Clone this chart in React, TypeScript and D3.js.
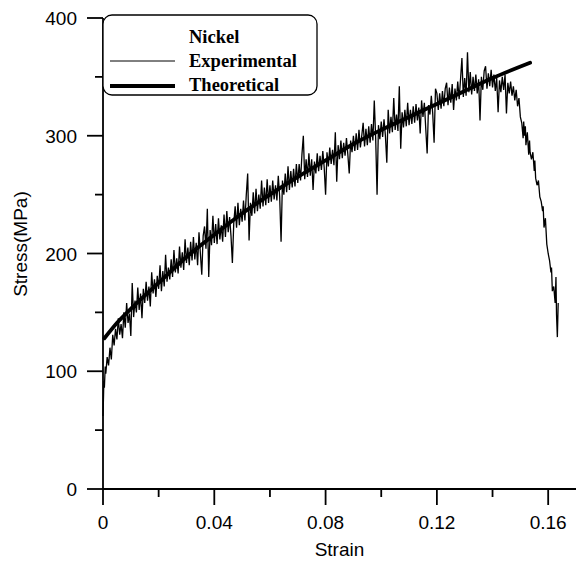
import React from "react";
import * as d3 from "d3";

// axis ticks
const xMajor = [0, 0.04, 0.08, 0.12, 0.16];
const xMinor = [0.02, 0.06, 0.1, 0.14];
const yMajor = [0, 100, 200, 300, 400];
const yMinor = [50, 150, 250, 350];

const legendTitle = "Nickel";
const legendLabels = ["Experimental", "Theoretical"];

// theoretical curve (strain, stress MPa)
const theoretical: [number, number][] = [
  [0.0005, 128], [0.005, 141], [0.01, 153], [0.02, 175], [0.03, 197],
  [0.04, 216], [0.05, 234], [0.06, 250], [0.07, 265], [0.08, 279],
  [0.09, 293], [0.1, 305], [0.11, 316], [0.12, 327], [0.13, 338],
  [0.14, 349], [0.1535, 362],
];

// experimental record
const experimental: [number, number][] = [
  [0, 62], [0.0002, 80], [0.0003, 92], [0.0005, 86], [0.0008, 104], [0.001, 98],
  [0.0015, 112], [0.002, 105], [0.0025, 120], [0.003, 110],
  [0.0035, 131], [0.004, 122], [0.0045, 136], [0.005, 127], [0.0055, 145],
  [0.006, 131], [0.0065, 140], [0.007, 128], [0.0075, 150], [0.008, 137],
  [0.0085, 158], [0.009, 141], [0.0095, 149], [0.01, 130], [0.0105, 175],
  [0.011, 146], [0.0115, 160], [0.012, 150], [0.0125, 171], [0.013, 152],
  [0.0135, 166], [0.014, 145], [0.0145, 170], [0.015, 158], [0.0155, 176],
  [0.016, 160], [0.0165, 172], [0.017, 155], [0.0175, 184], [0.018, 166],
  [0.0185, 178], [0.019, 163], [0.0195, 181], [0.02, 170], [0.0205, 190],
  [0.021, 168], [0.0215, 185], [0.022, 172], [0.0225, 199], [0.023, 176],
  [0.0235, 188], [0.024, 178], [0.0245, 195], [0.025, 180], [0.0255, 203],
  [0.026, 184], [0.0265, 196], [0.027, 183], [0.0275, 206], [0.028, 188],
  [0.0285, 201], [0.029, 186], [0.0295, 212], [0.03, 192], [0.0305, 205],
  [0.031, 190], [0.0315, 210], [0.032, 194], [0.0325, 214], [0.033, 195],
  [0.0335, 209], [0.034, 190], [0.0345, 218], [0.035, 200], [0.0355, 182],
  [0.036, 215], [0.0365, 223], [0.037, 204], [0.0375, 238], [0.038, 180],
  [0.0385, 220], [0.039, 207], [0.0395, 232], [0.04, 209], [0.0405, 225],
  [0.041, 208], [0.0415, 230], [0.042, 212], [0.0425, 224], [0.043, 210],
  [0.0435, 233], [0.044, 214], [0.0445, 236], [0.045, 218], [0.0455, 231],
  [0.046, 215], [0.0465, 192], [0.047, 226], [0.0475, 240], [0.048, 222],
  [0.0485, 243], [0.049, 224], [0.0495, 238], [0.05, 227], [0.0505, 245],
  [0.051, 228], [0.0515, 250], [0.052, 268], [0.0525, 211], [0.053, 243],
  [0.0535, 232], [0.054, 252], [0.0545, 234], [0.055, 255], [0.0555, 236],
  [0.056, 250], [0.0565, 238], [0.057, 262], [0.0575, 240], [0.058, 256],
  [0.0585, 241], [0.059, 263], [0.0595, 243], [0.06, 258], [0.0605, 244],
  [0.061, 262], [0.0615, 246], [0.062, 258], [0.0625, 245], [0.063, 266],
  [0.0635, 248], [0.064, 210], [0.0645, 262], [0.065, 250], [0.0655, 268],
  [0.066, 252], [0.0665, 274], [0.067, 254], [0.0675, 270], [0.068, 256],
  [0.0685, 272], [0.069, 257], [0.0695, 276], [0.07, 260], [0.0705, 276],
  [0.071, 262], [0.0715, 284], [0.072, 300], [0.0725, 263], [0.073, 280],
  [0.0735, 265], [0.074, 285], [0.0745, 266], [0.075, 280], [0.0755, 254],
  [0.076, 278], [0.0765, 268], [0.077, 285], [0.0775, 270], [0.078, 283],
  [0.0785, 271], [0.079, 287], [0.0795, 273], [0.08, 250], [0.0805, 286],
  [0.081, 274], [0.0815, 290], [0.082, 276], [0.0825, 288], [0.083, 275],
  [0.0835, 303], [0.084, 261], [0.0845, 292], [0.085, 280], [0.0855, 296],
  [0.086, 281], [0.0865, 294], [0.087, 283], [0.0875, 298], [0.088, 284],
  [0.0885, 268], [0.089, 296], [0.0895, 286], [0.09, 300], [0.0905, 287],
  [0.091, 302], [0.0915, 288], [0.092, 305], [0.0925, 290], [0.093, 300],
  [0.0935, 311], [0.094, 291], [0.0945, 306], [0.095, 292], [0.0955, 308],
  [0.096, 294], [0.0965, 310], [0.097, 296], [0.0975, 330], [0.098, 298],
  [0.0985, 250], [0.099, 309], [0.0995, 297], [0.1, 312], [0.1005, 299],
  [0.101, 314], [0.1015, 300], [0.102, 277], [0.1025, 322], [0.103, 302],
  [0.1035, 316], [0.104, 303], [0.1045, 332], [0.105, 305], [0.1055, 318],
  [0.106, 304], [0.1065, 342], [0.107, 289], [0.1075, 320], [0.108, 307],
  [0.1085, 322], [0.109, 308], [0.1095, 328], [0.11, 309], [0.1105, 322],
  [0.111, 310], [0.1115, 325], [0.112, 311], [0.1125, 327], [0.113, 313],
  [0.1135, 324], [0.114, 302], [0.1145, 330], [0.115, 316], [0.1155, 328],
  [0.116, 306], [0.1165, 285], [0.117, 326], [0.1175, 318], [0.118, 334],
  [0.1185, 319], [0.119, 294], [0.1195, 340], [0.12, 336], [0.1205, 322],
  [0.121, 336], [0.1215, 323], [0.122, 338], [0.1225, 325], [0.123, 340],
  [0.1235, 345], [0.124, 326], [0.1245, 341], [0.125, 328], [0.1255, 344],
  [0.126, 322], [0.1265, 340], [0.127, 330], [0.1275, 346], [0.128, 331],
  [0.1285, 348], [0.129, 366], [0.1295, 333], [0.13, 349], [0.1305, 334],
  [0.131, 371], [0.1315, 337], [0.132, 354], [0.1325, 335], [0.133, 350],
  [0.1335, 338], [0.134, 352], [0.1345, 336], [0.135, 348], [0.1355, 313],
  [0.136, 350], [0.1365, 339], [0.137, 355], [0.1375, 359], [0.138, 340],
  [0.1385, 353], [0.139, 342], [0.1395, 356], [0.14, 341], [0.1405, 352],
  [0.141, 338], [0.1415, 349], [0.142, 320], [0.1425, 347], [0.143, 337],
  [0.1435, 350], [0.144, 339], [0.1445, 352], [0.145, 319], [0.1455, 345],
  [0.146, 336], [0.1465, 346], [0.147, 334], [0.1475, 342], [0.148, 330],
  [0.1485, 339], [0.149, 325], [0.1495, 332], [0.15, 316], [0.1505, 311],
  [0.151, 298], [0.1512, 312], [0.1515, 300], [0.1518, 308], [0.152, 292],
  [0.1525, 303], [0.153, 284], [0.1533, 296], [0.1535, 286], [0.154, 280],
  [0.1545, 286], [0.155, 270], [0.1552, 279], [0.1555, 264], [0.156, 258],
  [0.1565, 262], [0.157, 248], [0.1575, 244], [0.158, 236], [0.1582, 240],
  [0.1585, 222], [0.159, 230], [0.1595, 208], [0.16, 200], [0.1605, 194],
  [0.161, 184], [0.1612, 188], [0.1615, 168], [0.162, 172], [0.1625, 158],
  [0.1628, 180], [0.163, 148], [0.1633, 129], [0.1636, 158],
];

const W = 577;
const H = 561;
const font = "'Liberation Sans', Arial, sans-serif";
const serif = "'Liberation Serif', 'Times New Roman', serif";

export default function App() {
  const x = d3.scaleLinear().domain([0, 0.17]).range([103, 576]);
  const y = d3.scaleLinear().domain([0, 400]).range([489, 18]);

  const line = d3
    .line<[number, number]>()
    .x((d) => x(d[0]))
    .y((d) => y(d[1]));
  const smooth = d3
    .line<[number, number]>()
    .x((d) => x(d[0]))
    .y((d) => y(d[1]))
    .curve(d3.curveMonotoneX);

  const x0 = x(0);
  const y0 = y(0);

  return (
    <svg
      width={W}
      height={H}
      style={{ position: "absolute", left: 0, top: 0, background: "#fff" }}
    >
      <rect width={W} height={H} fill="#fff" />

      {/* data */}
      <path d={line(experimental) ?? ""} fill="none" stroke="#000" strokeWidth={1.3} />
      <path
        d={smooth(theoretical) ?? ""}
        fill="none"
        stroke="#000"
        strokeWidth={3.8}
        strokeLinecap="round"
      />

      {/* axes */}
      <g stroke="#000" strokeWidth={1.8}>
        <line x1={x0} x2={x0} y1={y(400)} y2={y0} />
        <line x1={x0} x2={x(0.17)} y1={y0} y2={y0} />
        {xMajor.map((t) => (
          <line key={"xm" + t} x1={x(t)} x2={x(t)} y1={y0} y2={y0 + 16} />
        ))}
        {xMinor.map((t) => (
          <line key={"xn" + t} x1={x(t)} x2={x(t)} y1={y0} y2={y0 + 8} />
        ))}
        {yMajor.map((t) => (
          <line key={"ym" + t} x1={x0 - 16} x2={x0} y1={y(t)} y2={y(t)} />
        ))}
        {yMinor.map((t) => (
          <line key={"yn" + t} x1={x0 - 8} x2={x0} y1={y(t)} y2={y(t)} />
        ))}
      </g>

      <g fontFamily={font} fontSize={19} fill="#000">
        {xMajor.map((t) => (
          <text key={"xl" + t} x={x(t)} y={y0 + 40} textAnchor="middle">
            {d3.format("")(t)}
          </text>
        ))}
        {yMajor.map((t) => (
          <text key={"yl" + t} x={x0 - 26} y={y(t) + 7} textAnchor="end">
            {t}
          </text>
        ))}
        <text x={(x0 + x(0.17)) / 2} y={556} textAnchor="middle">
          Strain
        </text>
        <text
          transform={`translate(27, ${y(208)}) rotate(-90)`}
          textAnchor="middle"
        >
          Stress(MPa)
        </text>
      </g>

      {/* legend */}
      <g>
        <rect x={103} y={15} width={214} height={80} rx={9} fill="#fff" stroke="#000" strokeWidth={1.3} />
        <g fontFamily={serif} fontWeight="bold" fontSize={18.5} fill="#000">
          <text x={189} y={43}>{legendTitle}</text>
          <text x={189} y={67}>{legendLabels[0]}</text>
          <text x={189} y={91}>{legendLabels[1]}</text>
        </g>
        <line x1={110} x2={175} y1={61} y2={61} stroke="#000" strokeWidth={1} />
        <line x1={110} x2={175} y1={86} y2={86} stroke="#000" strokeWidth={3.8} />
      </g>
    </svg>
  );
}
